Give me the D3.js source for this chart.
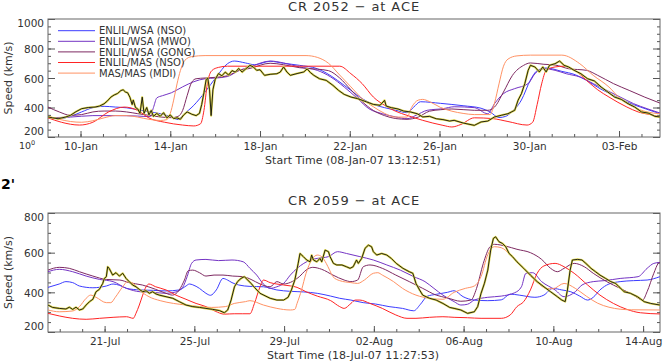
<!DOCTYPE html>
<html>
<head>
<meta charset="utf-8">
<script src="https://cdn.jsdelivr.net/npm/d3@7"></script>
<style>
  body { margin: 0; background: #fff; }
  text { font-family: 'DejaVu Sans', sans-serif; fill: #333; }
  .domain { display: none; }
  .tick line { stroke: #555; }
</style>
</head>
<body>
<svg id="chart" width="665" height="363"></svg>
<script>
// solar wind speed at ACE vs model runs, two carrington rotations
var width = 665, height = 363
var crDays = 27.2753

var modelNames = ['ENLIL/WSA (NSO)', 'ENLIL/WSA (MWO)', 'ENLIL/WSA (GONG)', 'ENLIL/MAS (NSO)', 'MAS/MAS (MDI)']
var modelColors = ['#3c3cff', '#7434c4', '#7e2a62', '#ff2424', '#ff9264']

// ---- CR 2052 : [days since start, km/s]
var start2052 = '2007-01-08T13:12:51Z'
var ticks2052 = ['10-Jan-07', '14-Jan-07', '18-Jan-07', '22-Jan-07', '26-Jan-07', '30-Jan-07', '03-Feb-07']
var speedTicks2052 = [200, 400, 600, 800, 1000]

var obs2052 = [[0,336],[0.2,330],[0.45,324],[0.8,336],[1.0,347],[1.25,372],[1.5,392],[1.8,400],[2.1,403],[2.3,410],[2.5,425],[2.65,445],[2.8,470],[2.95,485],[3.1,495],[3.25,515],[3.35,520],[3.45,505],[3.55,500],[3.65,470],[3.75,420],[3.8,450],[3.9,400],[4.0,390],[4.1,360],[4.2,470],[4.28,360],[4.4,400],[4.5,350],[4.6,380],[4.7,340],[4.85,360],[5.0,340],[5.15,365],[5.3,330],[5.45,350],[5.6,325],[5.75,330],[5.9,320],[6.05,350],[6.2,370],[6.4,355],[6.6,345],[6.75,360],[6.85,420],[6.95,500],[7.05,590],[7.12,600],[7.2,520],[7.27,345],[7.35,520],[7.45,590],[7.6,630],[7.75,615],[7.9,640],[8.05,620],[8.2,650],[8.35,640],[8.5,665],[8.65,640],[8.8,660],[9.0,686],
  [9.15,675],[9.3,652],[9.45,656],[9.65,618],[9.9,625],[10.2,629],[10.35,640],[10.5,675],[10.65,640],[10.8,618],[11.1,630],[11.4,641],[11.55,662],[11.7,636],[11.85,618],[12.1,595],[12.4,584],[12.7,550],[12.95,516],[13.2,489],[13.5,471],[13.8,460],[14.0,449],[14.2,438],[14.5,421],[14.8,415],[15.0,449],[15.07,410],[15.3,399],[15.6,390],[15.85,376],[16.15,370],[16.45,358],[16.7,336],[17.0,340],[17.3,324],[17.6,318],[17.9,308],[18.1,313],
  [18.5,295],[19.0,279],[19.3,302],[19.6,308],[19.9,336],[20.2,347],[20.5,358],[20.8,381],[20.95,449],[21.1,494],[21.25,562],[21.4,652],[21.5,686],[21.7,675],[21.9,641],[22.05,675],[22.2,641],[22.35,686],[22.6,697],[22.8,715],[23.0,686],[23.2,675],[23.45,652],[23.75,629],[24.05,595],[24.35,580],[24.65,539],[24.95,505],[25.25,471],[25.55,455],[25.85,426],[26.15,403],[26.45,370],[26.75,362],[27.05,340],[27.27,336]]

var nso2052 = [[0,336],[0.5,324],[1,340],[1.5,370],[2,399],[2.5,408],[3,403],[3.5,398],[4,385],[4.5,372],[5,358],[5.5,336],[5.8,318],[6,347],[6.5,415],[7,505],[7.5,607],[8,697],[8.3,715],[8.8,702],[9.2,690],[9.9,713],[10.5,700],[11.2,686],[12,663],[12.4,634],[12.9,584],[13.5,516],[14,460],[14.5,421],[15,399],[15.5,381],[16,365],[16.3,403],[16.6,439],[17.5,428],[18.5,412],[19.3,395],[19.7,370],[20.1,332],[20.4,340],[20.6,361],[21.1,451],[21.5,586],[21.8,650],[22.2,668],[22.9,645],[23.5,622],[24,584],[24.6,528],[25.2,482],[25.8,437],[26.4,403],[27.27,358]]
var mwo2052 = [[0,330],[1,335],[2,345],[3,345],[4,342],[4.55,338],[4.7,400],[4.85,465],[5.1,480],[5.5,500],[6,540],[6.5,575],[7,595],[7.5,600],[8,610],[8.5,650],[9,675],[9.9,715],[10.5,702],[11.2,675],[12,652],[12.6,607],[13.2,539],[13.8,460],[14.3,392],[14.9,358],[15.5,336],[16,324],[16.4,347],[16.9,381],[17.6,392],[18.1,405],[19,399],[19.6,358],[19.9,426],[20.3,494],[20.8,528],[21.4,562],[21.7,629],[22.1,663],[22.6,652],[23.1,629],[23.7,607],[24.3,562],[24.9,516],[25.5,471],[26.1,426],[26.7,392],[27.27,363]]
var gong2052 = [[0,403],[0.5,370],[1,347],[1.5,352],[2,370],[2.5,376],[3,376],[3.5,370],[4,358],[4.5,347],[5,336],[5.5,331],[5.8,340],[6,380],[6.2,480],[6.4,570],[6.6,595],[7,600],[7.5,605],[8,615],[8.5,650],[9,665],[9.9,700],[10.5,690],[11.2,670],[12,660],[12.5,650],[13,600],[13.5,520],[14,440],[14.5,380],[15,345],[15.5,325],[16,320],[16.5,335],[17,375],[17.5,385],[18,390],[19,381],[19.6,381],[19.9,403],[20.3,505],[20.7,618],[21.2,686],[21.5,702],[22.1,693],[22.6,688],[23.2,663],[24,652],[24.5,618],[25.2,562],[25.9,516],[26.6,470],[27.27,430]]
var mas2052 = [[0,330],[0.6,300],[1.4,281],[2,300],[2.7,370],[3.4,403],[4,380],[4.5,329],[5.2,300],[6,281],[6.5,275],[6.8,290],[6.95,380],[7.1,560],[7.3,650],[7.6,672],[8,680],[13,680],[13.5,629],[14,562],[14.5,471],[15,415],[15.5,374],[16,347],[16.7,313],[17.6,279],[18,268],[18.4,285],[19,330],[19.8,325],[20.5,305],[21.35,281],[21.6,300],[21.8,420],[22,560],[22.2,650],[22.6,675],[23,680],[23.5,650],[24,584],[24.5,520],[25,471],[25.8,403],[26.3,370],[27,347],[27.27,336]]
var mdi2052 = [[0,340],[0.5,320],[1,305],[1.5,300],[2,310],[2.5,330],[3,345],[3.5,345],[4,335],[4.5,320],[5,312],[5.3,318],[5.45,360],[5.6,450],[5.75,560],[5.9,650],[6.1,720],[6.4,745],[7,752],[11.5,752],[12,740],[12.5,700],[13,620],[13.5,540],[14,460],[14.5,405],[15,360],[15.5,335],[16,335],[16.2,400],[16.5,450],[16.7,455],[17,440],[17.5,400],[18,375],[18.5,360],[19,352],[19.7,352],[19.9,430],[20.1,560],[20.3,680],[20.5,728],[20.9,750],[21.5,755],[22.9,755],[23.7,697],[24.3,618],[25,539],[25.5,460],[26.1,403],[26.7,370],[27.27,358]]

// ---- CR 2059
var start2059 = '2007-07-18T11:27:53Z'
var ticks2059 = ['21-Jul-07', '25-Jul-07', '29-Jul-07', '02-Aug-07', '06-Aug-07', '10-Aug-07', '14-Aug-07']
var speedTicks2059 = [200, 400, 600, 800]

var obs2059 = [[0,336],[0.2,324],[0.5,319],[0.8,316],[0.95,325],[1.1,314],[1.25,325],[1.4,311],[1.55,316],[1.7,336],[1.85,353],[2.0,365],[2.14,403],[2.29,415],[2.44,445],[2.51,470],[2.6,479],[2.66,529],[2.73,520],[2.88,487],[3.03,499],[3.18,482],[3.33,496],[3.48,470],[3.62,454],[3.77,437],[3.92,428],[4.07,415],[4.22,403],[4.37,408],[4.52,395],[4.66,403],[4.81,392],[4.96,386],[5.26,378],[5.56,370],[5.85,353],[6.15,336],[6.45,328],[6.75,324],[7.04,319],[7.34,314],[7.64,308],[7.86,297],[8.01,311],[8.16,361],[8.31,428],[8.45,454],[8.6,470],[8.75,479],[8.9,462],[9.05,445],[9.2,425],[9.45,395],[9.9,370],[10.2,361],[10.5,361],[10.7,375],[10.85,412],[11.0,462],[11.15,546],[11.23,596],[11.38,580],[11.53,563],[11.68,554],[11.75,588],[11.83,563],[11.98,554],[12.12,571],[12.2,554],[12.35,613],[12.5,605],[12.57,580],[12.72,546],[12.87,538],[13.1,538],[13.3,529],[13.46,521],[13.6,529],[13.75,563],[13.83,546],[13.98,571],[14.13,622],[14.28,638],[14.42,630],[14.5,605],[14.65,588],[14.87,596],[15.1,588],[15.3,571],[15.52,546],[15.82,521],[16.1,504],[16.26,496],[16.4,445],[16.56,412],[16.7,386],[17.0,370],[17.3,361],[17.6,344],[17.9,324],[18.1,319],[18.4,311],[18.7,294],[19.0,302],[19.15,328],[19.3,395],[19.45,445],[19.6,512],[19.73,613],[19.85,672],[19.95,680],[20.1,655],[20.25,647],[20.4,630],[20.55,596],[20.7,580],[20.9,554],[21.2,521],[21.5,487],[21.8,454],[22.1,428],[22.4,403],[22.7,378],[22.9,361],[23.05,353],[23.15,412],[23.27,512],[23.37,563],[23.6,566],[23.8,563],[23.97,546],[24.2,521],[24.4,504],[24.6,487],[24.85,470],[25.08,454],[25.3,445],[25.45,428],[25.68,403],[25.96,395],[26.27,378],[26.57,353],[26.86,344],[27.27,336]]

var nso2059 = [[0,425],[0.5,442],[0.8,454],[1.1,449],[1.4,432],[2,423],[2.6,432],[2.9,442],[3.2,435],[3.5,420],[4.1,412],[4.7,410],[5.26,407],[5.85,412],[6.15,432],[6.3,442],[6.45,438],[6.75,420],[7.04,395],[7.24,385],[7.5,412],[7.8,470],[8.0,462],[8.2,449],[8.5,437],[9,430],[9.6,428],[10.2,412],[10.8,405],[11.4,402],[12,395],[12.6,381],[13,370],[13.5,361],[14.05,348],[14.6,341],[15.2,328],[15.8,319],[16.3,307],[16.6,340],[16.9,380],[17.3,390],[17.8,400],[18.1,408],[18.5,378],[19,361],[19.6,358],[20.2,362],[20.6,391],[21.0,386],[21.7,375],[22.1,386],[22.5,420],[22.9,412],[23.3,403],[23.7,381],[24.05,361],[24.3,375],[24.6,412],[25.0,442],[25.5,454],[26.1,459],[26.7,462],[27.27,479]]
var mwo2059 = [[0,504],[0.5,516],[1.1,504],[1.7,482],[2.3,465],[2.9,454],[3.5,420],[4.1,403],[4.7,400],[5.26,395],[5.7,402],[6.0,425],[6.2,479],[6.4,546],[6.6,563],[7.04,566],[7.6,560],[8.2,563],[8.7,554],[9.0,521],[9.3,487],[9.6,442],[9.9,420],[10.2,428],[10.5,445],[10.8,487],[11.1,521],[11.4,546],[11.7,563],[12,571],[12.5,580],[12.9,605],[13.3,596],[13.9,580],[14.5,563],[15.1,538],[15.7,512],[16.3,479],[16.8,454],[17.2,420],[17.6,386],[18.1,353],[18.4,336],[18.7,340],[19,361],[19.6,375],[20.2,381],[20.8,398],[21.1,428],[21.3,496],[21.6,499],[22,454],[22.6,412],[23,378],[23.5,403],[23.8,437],[24.3,454],[24.8,459],[25.5,470],[26.3,479],[26.7,521],[27.0,546],[27.27,551]]
var gong2059 = [[0,512],[0.5,526],[0.95,521],[1.4,504],[2,482],[2.6,465],[3.2,462],[3.6,449],[4.2,437],[4.8,415],[5.26,395],[5.55,386],[5.85,412],[6.08,462],[6.25,509],[6.45,512],[6.75,499],[7.04,482],[7.4,487],[7.8,487],[8.23,482],[8.7,479],[9.05,465],[9.45,442],[9.9,428],[10.2,454],[10.5,442],[10.8,450],[11.2,479],[11.5,512],[11.8,526],[12.2,516],[12.7,487],[13.2,462],[13.5,454],[13.8,462],[14.05,529],[14.35,538],[14.9,521],[15.5,487],[16.1,454],[16.7,420],[17.3,386],[17.8,372],[18.4,355],[18.85,361],[19.1,420],[19.4,546],[19.7,630],[19.9,642],[20.4,633],[20.9,617],[21.5,600],[22,566],[22.4,521],[22.7,504],[23,521],[23.45,546],[23.9,529],[24.3,496],[24.9,454],[25.5,420],[26.1,386],[26.5,361],[26.7,403],[27,496],[27.2,546],[27.27,550]]
var mas2059 = [[0,294],[0.5,281],[1.1,269],[1.7,264],[2.3,269],[2.9,274],[3.5,277],[3.8,269],[3.92,294],[4.07,336],[4.22,386],[4.37,428],[4.5,442],[4.8,428],[5.26,412],[5.7,386],[6.15,365],[6.6,344],[7.04,328],[7.45,305],[7.86,290],[8.3,292],[8.68,292],[9.0,292],[9.2,344],[9.45,428],[9.6,462],[9.9,449],[10.5,437],[11.1,425],[11.5,403],[12,381],[12.6,358],[13,328],[13.2,319],[13.5,344],[13.7,361],[13.9,361],[14.35,344],[14.9,319],[15.5,286],[16,269],[16.4,269],[17,274],[17.6,277],[18.1,274],[18.7,272],[19.3,269],[20.2,269],[20.6,286],[20.9,328],[21.2,353],[21.5,412],[21.8,496],[22.1,533],[22.6,546],[23,529],[23.45,496],[24.05,437],[24.6,386],[25.2,344],[25.8,314],[26.4,297],[27.27,291]]
var mdi2059 = [[0,311],[0.5,302],[1.1,306],[1.4,328],[1.7,370],[1.9,386],[2.14,375],[2.6,348],[2.8,348],[3.0,375],[3.33,428],[3.55,454],[3.8,445],[4.07,412],[4.5,378],[5.0,358],[5.6,344],[6.15,336],[6.75,328],[7.3,324],[7.9,328],[8.3,344],[8.8,353],[9.0,358],[9.6,336],[10.2,319],[10.8,311],[11.0,314],[11.1,344],[11.3,412],[11.5,496],[11.75,563],[12,588],[12.2,580],[12.4,546],[12.55,512],[12.7,479],[13,459],[13.5,449],[13.8,445],[14.1,462],[14.5,496],[14.7,499],[14.9,487],[15.4,454],[15.8,420],[16.4,386],[17,370],[17.6,365],[18.1,400],[18.6,420],[19,432],[19.3,480],[19.6,590],[19.9,630],[20.2,625],[20.6,590],[21,545],[21.4,495],[21.8,450],[22.2,420],[22.5,418],[23.0,445],[23.5,420],[24,380],[24.5,345],[25,325],[25.5,315],[26,312],[27.27,311]]

var svg = d3.select('#chart')
var parseStart = d3.utcParse('%Y-%m-%dT%H:%M:%SZ')
var parseTick = d3.utcParse('%d-%b-%y')
var fmtTick = d3.utcFormat('%d-%b')
var fmtStart = d3.utcFormat('%d-%b-%y %H:%M:%S')

function drawPanel(p) {
  var t0 = parseStart(p.start)
  var t1 = new Date(t0.getTime() + crDays * 864e5)
  var vMin = p.speedTicks[0], vMax = p.speedTicks[p.speedTicks.length - 1]
  var x = d3.scaleUtc().domain([t0, t1]).range([p.left, p.right])
  var y = d3.scaleLinear().domain([vMin, vMax]).range([p.bottom, p.top])
  var g = svg.append('g')

  g.append('clipPath').attr('id', 'clip' + p.id)
    .append('rect')
    .attr('x', p.left).attr('y', p.top)
    .attr('width', p.right - p.left).attr('height', p.bottom - p.top)

  // axes, ticks pointing inward
  var days = d3.utcDay.range(t0, t1)
  var majors = p.ticks.map(function(s) { return parseTick(s) })
  var minorSpeed = d3.range(vMin, vMax, 50)

  g.append('g').attr('transform', 'translate(0,' + p.bottom + ')')
    .call(d3.axisBottom(x).tickValues(days).tickSize(-3).tickFormat(''))
  g.append('g').attr('transform', 'translate(0,' + p.bottom + ')')
    .call(d3.axisBottom(x).tickValues(majors).tickSize(-6).tickPadding(6).tickFormat(fmtTick))
    .selectAll('text').attr('font-size', 10.5).attr('fill', '#333')

  g.append('g').attr('transform', 'translate(' + p.left + ',0)')
    .call(d3.axisLeft(y).tickValues(minorSpeed).tickSize(-3).tickFormat(''))
  g.append('g').attr('transform', 'translate(' + p.left + ',0)')
    .call(d3.axisLeft(y).tickValues(p.speedTicks).tickSize(-7).tickPadding(4).tickFormat(d3.format('d')))
    .selectAll('text').attr('font-size', 10.5).attr('fill', '#333')
    // end labels are nudged inside the frame
    .attr('dy', function(d) { return d === vMax ? '0.75em' : d === vMin ? '-0.2em' : '0.4em' })

  g.append('g').attr('transform', 'translate(' + p.right + ',0)')
    .call(d3.axisRight(y).tickValues(minorSpeed).tickSize(-3).tickFormat(''))
  g.append('g').attr('transform', 'translate(' + p.right + ',0)')
    .call(d3.axisRight(y).tickValues(p.speedTicks).tickSize(-7).tickFormat(''))

  g.selectAll('.tick text').style('font-family', "'DejaVu Sans', sans-serif")

  g.append('rect')
    .attr('x', p.left).attr('y', p.top)
    .attr('width', p.right - p.left).attr('height', p.bottom - p.top)
    .attr('fill', 'none').attr('stroke', '#666').attr('stroke-width', 1)

  var lineModel = d3.line()
    .x(function(d) { return x(new Date(t0.getTime() + d[0] * 864e5)) })
    .y(function(d) { return y(d[1]) })
    .curve(d3.curveMonotoneX)
  var lineObs = d3.line()
    .x(function(d) { return x(new Date(t0.getTime() + d[0] * 864e5)) })
    .y(function(d) { return y(d[1]) })

  var lines = g.append('g').attr('clip-path', 'url(#clip' + p.id + ')')

  lines.selectAll('.model')
    .data(p.models)
    .enter()
    .append('path')
    .attr('class', 'model')
    .attr('d', lineModel)
    .attr('fill', 'none')
    .attr('stroke', function(d, i) { return modelColors[i] })
    .attr('stroke-width', 1)

  lines.append('path')
    .attr('d', lineObs(p.obs))
    .attr('fill', 'none')
    .attr('stroke', '#e0d84c')
    .attr('stroke-width', 2.1)
    .attr('stroke-linejoin', 'round')
  lines.append('path')
    .attr('d', lineObs(p.obs))
    .attr('fill', 'none')
    .attr('stroke', '#111')
    .attr('stroke-width', 0.9)
    .attr('stroke-linejoin', 'round')

  // texts
  g.append('text')
    .attr('x', (p.left + p.right) / 2).attr('y', p.top - 8)
    .attr('text-anchor', 'middle').attr('font-size', 13)
    .attr('letter-spacing', 0.9)
    .text(p.title)

  g.append('text')
    .attr('x', (p.left + p.right) / 2 - 1).attr('y', p.bottom + 27)
    .attr('text-anchor', 'middle').attr('font-size', 11)
    .text('Start Time (' + fmtStart(t0) + ')')

  g.append('text')
    .attr('transform', 'translate(12,' + (p.top + p.bottom) / 2 + ') rotate(-90)')
    .attr('text-anchor', 'middle').attr('font-size', 11)
    .text('Speed (km/s)')

  return { x: x, y: y }
}

drawPanel({
  id: 'a', title: 'CR 2052 \u2212 at ACE', start: start2052, ticks: ticks2052, speedTicks: speedTicks2052,
  left: 48, right: 660, top: 19, bottom: 137,
  obs: obs2052, models: [nso2052, mwo2052, gong2052, mas2052, mdi2052]
})

drawPanel({
  id: 'b', title: 'CR 2059 \u2212 at ACE', start: start2059, ticks: ticks2059, speedTicks: speedTicks2059,
  left: 48, right: 660, top: 213, bottom: 332,
  obs: obs2059, models: [nso2059, mwo2059, gong2059, mas2059, mdi2059]
})

// legend (top panel only)
var legend = svg.append('g')
  .selectAll('g')
  .data(modelNames)
  .enter()
  .append('g')
  .attr('transform', function(d, i) { return 'translate(58,' + (30.7 + i * 10.6) + ')' })

legend.append('line')
  .attr('x1', 0).attr('x2', 37)
  .attr('stroke', function(d, i) { return modelColors[i] })
  .attr('stroke-width', 1)

legend.append('text')
  .attr('x', 41).attr('dy', '0.36em')
  .attr('font-size', 10)
  .text(function(d) { return d })

// stray log-axis label left over below the 200 tick
var exp = svg.append('text').attr('x', 19).attr('y', 148.5).attr('font-size', 9.5)
exp.append('tspan').text('10')
exp.append('tspan').attr('dy', -4).attr('font-size', 6.5).text('0')

// panel marker
svg.append('text')
  .attr('x', 1).attr('y', 189)
  .attr('font-size', 14).attr('font-weight', 'bold')
  .style('fill', '#000')
  .text("2'")
</script>
</body>
</html>
